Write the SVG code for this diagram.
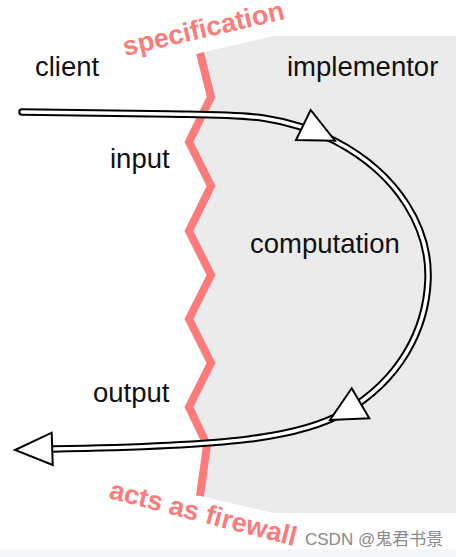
<svg xmlns="http://www.w3.org/2000/svg" width="456" height="557" viewBox="0 0 456 557">
<style>
.lbl{font-family:"Liberation Sans",Arial,Helvetica,sans-serif;font-size:27.5px;fill:#111}
.red{font-family:"Liberation Sans",Arial,Helvetica,sans-serif;font-size:27px;font-weight:bold;fill:#ff7b7b}
.outer{fill:none;stroke:#000;stroke-width:7.5;stroke-linecap:round;stroke-linejoin:round}
.inner{fill:none;stroke:#fff;stroke-width:3.5;stroke-linecap:round;stroke-linejoin:round}
.head{fill:#fff;stroke:#000;stroke-width:2;stroke-linejoin:miter}
.wm{font-family:"Liberation Sans","Noto Sans CJK SC",sans-serif;font-size:17px;fill:#8a8a8a}
</style>
<rect x="0" y="0" width="456" height="557" fill="#ffffff"/>
<rect x="0" y="549" width="456" height="8" fill="#f6f7f9"/>
<g id="implementor-region">
<polygon points="200,53 273,36 456,36 456,513 273,513 200,496 207,445 189,407 211,363 189,319 211,275 189,231 211,186 189,142 211,97" fill="#ebebeb"/>
</g>
<g id="firewall">
<polyline points="200,53 211,97 189,142 211,186 189,231 211,275 189,319 211,363 189,407 207,445 200,496" fill="none" stroke="#ff7b7b" stroke-width="8" stroke-linejoin="miter"/>
</g>
<g id="connectors">
<path class="outer" d="M22,112 L170,114 C240,115 280,113 335,141 C400,175 430,230 428,280 C426,330 400,380 345,412 C300,438 230,446 52,449"/>
<path class="inner" d="M22,112 L170,114 C240,115 280,113 335,141 C400,175 430,230 428,280 C426,330 400,380 345,412 C300,438 230,446 52,449"/>
<polygon class="head" points="310.7,110 296,140 335,140.7"/>
<polygon class="head" points="351.7,388.3 369.3,418.3 330,420"/>
<polygon class="head" points="15,450 51.7,432.7 52.7,465"/>
</g>
<g id="labels">
<text class="lbl" x="35" y="76">client</text>
<text class="lbl" x="287" y="76">implementor</text>
<text class="lbl" x="110" y="168">input</text>
<text class="lbl" x="250" y="253">computation</text>
<text class="lbl" x="93" y="402">output</text>
</g>
<g id="spec-label">
<text class="red" x="125" y="56" transform="rotate(-13 125 56)">specification</text>
</g>
<g id="firewall-label">
<text class="red" x="108" y="498" transform="rotate(14.5 108 498)">acts as firewall</text>
</g>
<text class="wm" x="305" y="545">CSDN @鬼君书景</text>
</svg>
